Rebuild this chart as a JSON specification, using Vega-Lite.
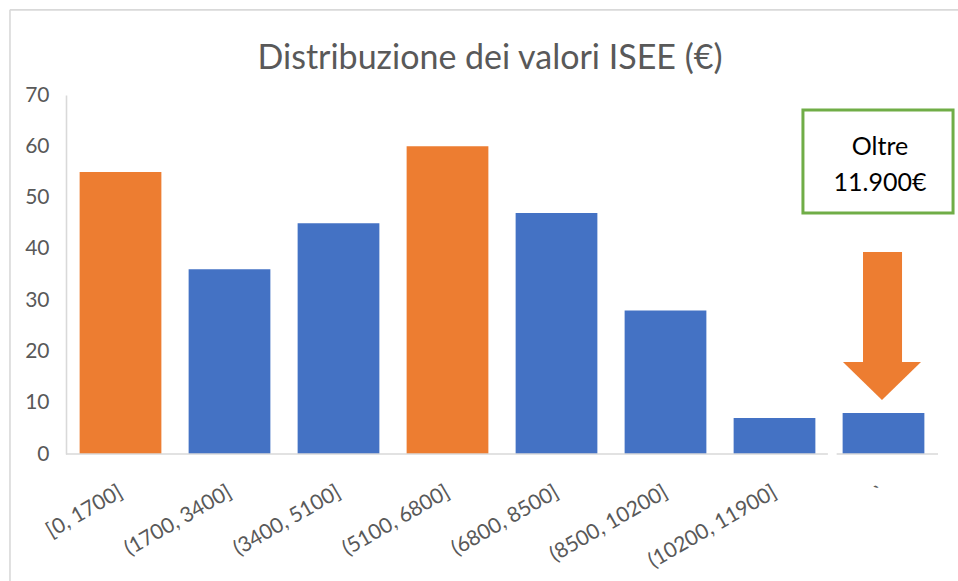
{
  "$schema": "https://vega.github.io/schema/vega-lite/v6.json",
  "width": 872,
  "height": 359,
  "autosize": {"type": "none"},
  "padding": {"left": 66, "top": 95, "right": 20, "bottom": 127},
  "background": "white",
  "title": {
    "text": "Distribuzione dei valori ISEE (€)",
    "font": "Lato",
    "fontSize": 34,
    "fontWeight": "normal",
    "color": "#595959",
    "frame": "group",
    "dx": -12,
    "offset": -94,
    "baseline": "alphabetic"
  },
  "datasets": {
    "bars": [
      {"classe": "[0, 1700]", "valore": 55, "evidenza": "sì"},
      {"classe": "(1700, 3400]", "valore": 36, "evidenza": "no"},
      {"classe": "(3400, 5100]", "valore": 45, "evidenza": "no"},
      {"classe": "(5100, 6800]", "valore": 60, "evidenza": "sì"},
      {"classe": "(6800, 8500]", "valore": 47, "evidenza": "no"},
      {"classe": "(8500, 10200]", "valore": 28, "evidenza": "no"},
      {"classe": "(10200, 11900]", "valore": 7, "evidenza": "no"},
      {"classe": "`", "valore": 8, "evidenza": "no"}
    ],
    "lines": [
      {"x1": 0, "x2": 6.99, "y1": 0, "y2": 0},
      {"x1": 7.07, "x2": 8, "y1": 0, "y2": 0},
      {"x1": -0.514, "x2": -0.514, "y1": 86.6, "y2": -30},
      {"x1": -0.514, "x2": 8.4, "y1": 86.6, "y2": 86.6}
    ],
    "box": [
      {"x1": 6.761, "x2": 8.138, "y1": 67.07, "y2": 46.99}
    ],
    "label": [
      {"testo": "Oltre", "x": 7.468, "y": 58.3},
      {"testo": "11.900€", "x": 7.468, "y": 51.3}
    ],
    "shaft": [
      {"x1": 7.312, "x2": 7.67, "y1": 39.38, "y2": 17.7}
    ],
    "head": [
      {"x": 7.128, "lo": 17.94, "hi": 17.94},
      {"x": 7.486, "lo": 10.53, "hi": 17.94},
      {"x": 7.844, "lo": 17.94, "hi": 17.94}
    ]
  },
  "layer": [
    {
      "data": {"name": "bars"},
      "mark": {"type": "bar"},
      "encoding": {
        "x": {
          "field": "classe",
          "type": "nominal",
          "sort": null,
          "scale": {"paddingInner": 0.25, "paddingOuter": 0.125},
          "axis": {
            "title": null,
            "domain": false,
            "ticks": false,
            "labelAngle": -30,
            "labelPadding": 27,
            "labelOffset": -5,
            "labelFont": "Lato",
            "labelFontSize": 21,
            "labelColor": "#595959"
          }
        },
        "y": {
          "field": "valore",
          "type": "quantitative",
          "scale": {"domain": [0, 70], "nice": false},
          "title": null
        },
        "color": {
          "field": "evidenza",
          "type": "nominal",
          "scale": {"domain": ["sì", "no"], "range": ["#ed7d31", "#4472c4"]},
          "legend": null
        }
      }
    },
    {
      "layer": [
        {
          "data": {"name": "lines"},
          "mark": {"type": "rule", "color": "#d9d9d9", "strokeWidth": 1.6},
          "encoding": {
            "x": {"field": "x1", "type": "quantitative", "scale": {"domain": [0, 8], "nice": false, "zero": false}, "axis": null},
            "x2": {"field": "x2"},
            "y": {"field": "y1", "type": "quantitative", "scale": {"domain": [0, 70], "nice": false}, "title": null},
            "y2": {"field": "y2"}
          }
        },
        {
          "data": {"name": "box"},
          "mark": {"type": "rect", "fill": "white", "stroke": "#70ad47", "strokeWidth": 3},
          "encoding": {
            "x": {"field": "x1", "type": "quantitative", "scale": {"domain": [0, 8], "nice": false, "zero": false}, "axis": null},
            "x2": {"field": "x2"},
            "y": {"field": "y1", "type": "quantitative", "scale": {"domain": [0, 70], "nice": false}, "title": null},
            "y2": {"field": "y2"}
          }
        },
        {
          "data": {"name": "label"},
          "mark": {"type": "text", "font": "Lato", "fontSize": 25, "color": "#000000", "align": "center", "baseline": "alphabetic"},
          "encoding": {
            "x": {"field": "x", "type": "quantitative", "scale": {"domain": [0, 8], "nice": false, "zero": false}, "axis": null},
            "y": {"field": "y", "type": "quantitative", "scale": {"domain": [0, 70], "nice": false}, "title": null},
            "text": {"field": "testo"}
          }
        },
        {
          "data": {"name": "shaft"},
          "mark": {"type": "rect", "color": "#ed7d31"},
          "encoding": {
            "x": {"field": "x1", "type": "quantitative", "scale": {"domain": [0, 8], "nice": false, "zero": false}, "axis": null},
            "x2": {"field": "x2"},
            "y": {"field": "y1", "type": "quantitative", "scale": {"domain": [0, 70], "nice": false}, "title": null},
            "y2": {"field": "y2"}
          }
        },
        {
          "data": {"name": "head"},
          "mark": {"type": "area", "color": "#ed7d31", "interpolate": "linear", "orient": "vertical"},
          "encoding": {
            "x": {"field": "x", "type": "quantitative", "scale": {"domain": [0, 8], "nice": false, "zero": false}, "axis": null},
            "y": {"field": "hi", "type": "quantitative", "scale": {"domain": [0, 70], "nice": false}, "title": null},
            "y2": {"field": "lo"}
          }
        }
      ]
    }
  ],
  "resolve": {"scale": {"x": "independent"}},
  "config": {
    "view": {"stroke": null},
    "axisY": {
      "grid": false,
      "ticks": false,
      "domainColor": "#d9d9d9",
      "domainWidth": 1.6,
      "labelFont": "Lato",
      "labelFontSize": 21,
      "labelColor": "#595959",
      "labelPadding": 17,
      "values": [0, 10, 20, 30, 40, 50, 60, 70]
    }
  }
}
